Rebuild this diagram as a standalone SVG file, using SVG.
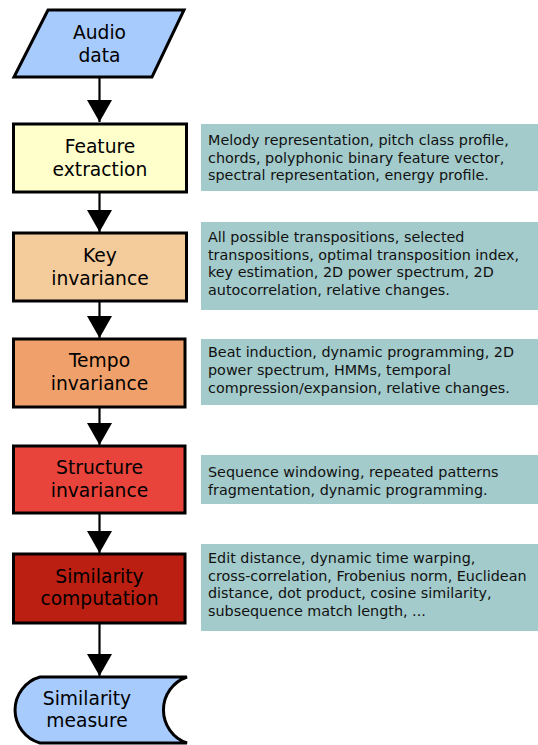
<svg xmlns="http://www.w3.org/2000/svg" width="538" height="745" viewBox="0 0 538 745">
<style>
.n{stroke:#000;stroke-width:3;stroke-linejoin:miter}
.t{font-family:"DejaVu Sans",sans-serif;font-size:18.7px;fill:#000;text-anchor:middle}
.d{fill:#a3cbcb}
.dt{font-family:"DejaVu Sans",sans-serif;font-size:14.35px;fill:#111}
.c{stroke:#000;stroke-width:2.2;fill:none}
</style>
<defs>
<marker id="ah" markerUnits="userSpaceOnUse" markerWidth="24" markerHeight="26" refX="22" refY="12.5" orient="auto" viewBox="0 0 24 26">
<path d="M0,0 L22,12.5 L0,25 Z" fill="#000"/>
</marker>
</defs>
<g id="connectors">
<line class="c" x1="99.5" y1="78" x2="99.5" y2="122" marker-end="url(#ah)"/>
<line class="c" x1="99.5" y1="192" x2="99.5" y2="232" marker-end="url(#ah)"/>
<line class="c" x1="99.5" y1="301" x2="99.5" y2="338" marker-end="url(#ah)"/>
<line class="c" x1="99.5" y1="407" x2="99.5" y2="445" marker-end="url(#ah)"/>
<line class="c" x1="99.5" y1="514" x2="99.5" y2="553" marker-end="url(#ah)"/>
<line class="c" x1="99.5" y1="623" x2="99.5" y2="676" marker-end="url(#ah)"/>
</g>
<g id="audio">
<polygon class="n" points="48,10 184,10 152,77 14,77" fill="#a8cbfe"/>
<text class="t" x="99.5" y="39">Audio</text>
<text class="t" x="99.5" y="62">data</text>
</g>
<g id="feature">
<rect class="n" x="13.5" y="124" width="173" height="68" fill="#ffffcc"/>
<text class="t" x="100" y="153">Feature</text>
<text class="t" x="100" y="176">extraction</text>
</g>
<g id="key">
<rect class="n" x="13.5" y="233" width="173" height="68" fill="#f4cb9b"/>
<text class="t" x="100" y="262">Key</text>
<text class="t" x="100" y="284.5">invariance</text>
</g>
<g id="tempo">
<rect class="n" x="13.5" y="339" width="171.5" height="68" fill="#f0a06b"/>
<text class="t" x="99.5" y="367">Tempo</text>
<text class="t" x="99.5" y="390">invariance</text>
</g>
<g id="structure">
<rect class="n" x="13.5" y="446" width="171.5" height="67" fill="#e8443b"/>
<text class="t" x="99.5" y="473.5">Structure</text>
<text class="t" x="99.5" y="496.5">invariance</text>
</g>
<g id="similarity-computation">
<rect class="n" x="13.5" y="554" width="171.5" height="69" fill="#bb1f12"/>
<text class="t" x="99.5" y="583">Similarity</text>
<text class="t" x="99.5" y="605">computation</text>
</g>
<g id="similarity-measure">
<path class="n" d="M40,677 H187 A34.9,34.9 0 0 0 187,743 H40 A34.3,34.3 0 0 1 40,677 Z" fill="#a8cbfe"/>
<text class="t" x="87" y="705">Similarity</text>
<text class="t" x="87" y="727">measure</text>
</g>
<g id="desc-feature">
<rect class="d" x="201" y="124" width="337" height="67"/>
<text class="dt" x="208" y="145">Melody representation, pitch class profile,</text>
<text class="dt" x="208" y="162.5">chords, polyphonic binary feature vector,</text>
<text class="dt" x="208" y="180">spectral representation, energy profile.</text>
</g>
<g id="desc-key">
<rect class="d" x="201" y="222" width="337" height="88"/>
<text class="dt" x="208" y="242">All possible transpositions, selected</text>
<text class="dt" x="208" y="259.5">transpositions, optimal transposition index,</text>
<text class="dt" x="208" y="277">key estimation, 2D power spectrum, 2D</text>
<text class="dt" x="208" y="294.5">autocorrelation, relative changes.</text>
</g>
<g id="desc-tempo">
<rect class="d" x="201" y="339" width="337" height="66"/>
<text class="dt" x="208" y="357">Beat induction, dynamic programming, 2D</text>
<text class="dt" x="208" y="375">power spectrum, HMMs, temporal</text>
<text class="dt" x="208" y="393">compression/expansion, relative changes.</text>
</g>
<g id="desc-structure">
<rect class="d" x="201" y="455" width="337" height="49"/>
<text class="dt" x="208" y="477">Sequence windowing, repeated patterns</text>
<text class="dt" x="208" y="495">fragmentation, dynamic programming.</text>
</g>
<g id="desc-similarity">
<rect class="d" x="201" y="544" width="337" height="87"/>
<text class="dt" x="208" y="563">Edit distance, dynamic time warping,</text>
<text class="dt" x="208" y="580.5">cross-correlation, Frobenius norm, Euclidean</text>
<text class="dt" x="208" y="598">distance, dot product, cosine similarity,</text>
<text class="dt" x="208" y="615.5">subsequence match length, ...</text>
</g>
</svg>
